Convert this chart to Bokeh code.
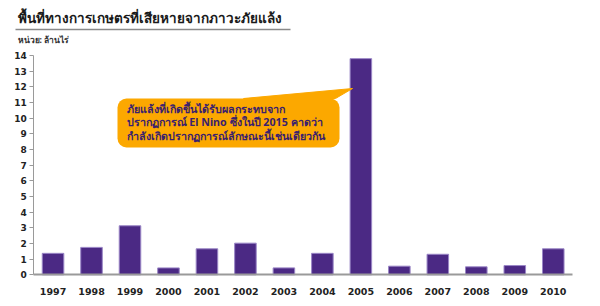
from bokeh.plotting import figure
from bokeh.models import Label, BoxAnnotation, Range1d, FixedTicker, LinearAxis
from bokeh.embed import file_html
from bokeh.resources import INLINE

years = ["1997", "1998", "1999", "2000", "2001", "2002", "2003",
         "2004", "2005", "2006", "2007", "2008", "2009", "2010"]
damaged_area = [1.37, 1.75, 3.13, 0.44, 1.66, 2.02, 0.44,
                1.37, 13.8, 0.55, 1.31, 0.51, 0.59, 1.66]
y_ticks = list(range(0, 15))
title_text = "พื้นที่ทางการเกษตรที่เสียหายจากภาวะภัยแล้ง"
unit_text = "หน่วย: ล้านไร่"
callout_text = ("ภัยแล้งที่เกิดขึ้นได้รับผลกระทบจาก\n"
                "ปรากฏการณ์ El Nino ซึ่งในปี 2015 คาดว่า\n"
                "กำลังเกิดปรากฏการณ์ลักษณะนี้เช่นเดียวกัน")

FONT = "DejaVu Sans"
TFONT = "Noto Sans"

W, H = 600, 306
N = len(years)
positions = list(range(N))
# plot band in canvas pixels
BAND_L, BAND_R, BASE_Y, TOP_Y = 33.3, 572, 274.3, 55
ux = (BAND_R - BAND_L) / N
uy = (BASE_Y - TOP_Y) / 14.0


def dx(px):
    return -0.5 + (px - BAND_L) / ux


def dy(py):
    return (BASE_Y - py) / uy


p = figure(width=W, height=H, x_range=Range1d(dx(0), dx(W)),
           y_range=Range1d(dy(H), dy(0)), output_backend="svg",
           toolbar_location=None, min_border=0,
           x_axis_location=None, y_axis_location=None)
p.outline_line_color = None
p.xgrid.grid_line_color = None
p.ygrid.grid_line_color = None

p.vbar(x=positions, top=damaged_area, width=0.56, fill_color="#4B2984",
       line_color="#9a86c6", line_width=1)

yax = LinearAxis(fixed_location=-0.5, bounds=(0, 14),
                 ticker=FixedTicker(ticks=y_ticks))
yax.axis_line_color = "#9a9a9a"
yax.major_tick_line_color = "#9a9a9a"
yax.major_tick_out = 4
yax.major_tick_in = 0
yax.minor_tick_line_color = None
yax.major_label_text_font = FONT
yax.major_label_text_font_style = "bold"
yax.major_label_text_font_size = "9px"
yax.major_label_text_color = "#222222"
yax.major_label_standoff = 3
p.add_layout(yax, "left")

xax = LinearAxis(fixed_location=0, bounds=(-0.5, N - 0.5),
                 ticker=FixedTicker(ticks=positions),
                 major_label_overrides={i: y for i, y in enumerate(years)})
xax.axis_line_color = "#9a9a9a"
xax.axis_line_width = 2
xax.major_tick_line_color = None
xax.minor_tick_line_color = None
xax.major_label_text_font = FONT
xax.major_label_text_font_style = "bold"
xax.major_label_text_font_size = "9.5px"
xax.major_label_text_color = "#222222"
xax.major_label_standoff = 7
p.add_layout(xax, "below")

# title, underline, unit
p.add_layout(Label(x=dx(17), y=dy(17), text=title_text, text_font=TFONT,
                   text_font_style="bold", text_font_size="13.5px",
                   text_color="#1a1a1a", text_baseline="middle", text_align="left"))
p.segment(x0=[dx(15)], y0=[dy(29)], x1=[dx(290)], y1=[dy(29)],
          line_color="#8a8a8a", line_width=1.5)
p.add_layout(Label(x=dx(17), y=dy(39), text=unit_text, text_font=TFONT,
                   text_font_style="bold", text_font_size="8.5px", text_color="#333333",
                   text_baseline="middle", text_align="left"))

# callout
p.patch([dx(243), dx(335), dx(352)], [dy(98), dy(98), dy(88)],
        fill_color="#FCA800", line_color="#FCA800", line_width=1)
p.add_layout(BoxAnnotation(left=dx(117), right=dx(339), bottom=dy(147), top=dy(98),
                           fill_color="#FCA800", fill_alpha=1, line_color=None,
                           border_radius=9))
p.add_layout(Label(x=dx(126), y=dy(101), text=callout_text, text_font=TFONT,
                   text_font_style="bold", text_font_size="10.7px",
                   text_color="#3a1f6e", text_baseline="top", text_align="left",
                   text_line_height=0.97))

open("out.html", "w").write(file_html(p, INLINE))
